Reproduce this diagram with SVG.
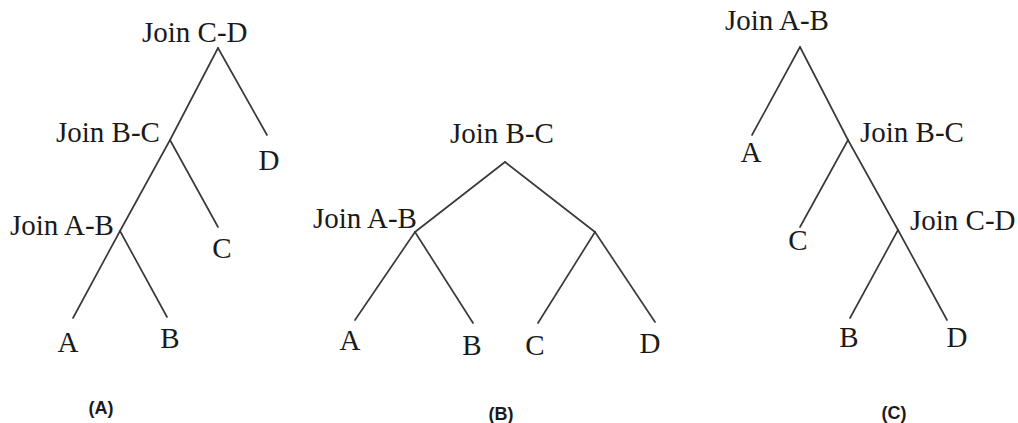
<svg xmlns="http://www.w3.org/2000/svg" width="1018" height="423" viewBox="0 0 1018 423">
<style>
.e{stroke:#3a3a3a;stroke-width:1.7;fill:none;stroke-linecap:round}
.t{font-family:"Liberation Serif","Times New Roman","DejaVu Serif",serif;font-size:29px;fill:#1a1a1a}
.c{text-anchor:middle}
.cap{font-family:"Liberation Sans",Arial,sans-serif;font-weight:bold;font-size:18px;fill:#1a1a1a;text-anchor:middle}
</style>
<rect width="1018" height="423" fill="#ffffff"/>
<g id="connectors">
<line class="e" x1="218" y1="48" x2="267" y2="135"/>
<line class="e" x1="218" y1="48" x2="170" y2="140"/>
<line class="e" x1="170" y1="140" x2="218" y2="227"/>
<line class="e" x1="170" y1="140" x2="120" y2="231"/>
<line class="e" x1="120" y1="231" x2="73" y2="318"/>
<line class="e" x1="120" y1="231" x2="167" y2="317"/>
<line class="e" x1="505" y1="162" x2="415" y2="232"/>
<line class="e" x1="505" y1="162" x2="595" y2="232"/>
<line class="e" x1="415" y1="232" x2="355" y2="320"/>
<line class="e" x1="415" y1="232" x2="473" y2="323"/>
<line class="e" x1="595" y1="232" x2="538" y2="323"/>
<line class="e" x1="595" y1="232" x2="655" y2="322"/>
<line class="e" x1="800" y1="47" x2="752" y2="135"/>
<line class="e" x1="800" y1="47" x2="848" y2="140"/>
<line class="e" x1="848" y1="140" x2="800" y2="227"/>
<line class="e" x1="848" y1="140" x2="898" y2="230"/>
<line class="e" x1="898" y1="230" x2="850" y2="318"/>
<line class="e" x1="898" y1="230" x2="947" y2="320"/>
</g>
<g id="treeA">
<g id="a-join-cd"><text class="t" x="142" y="42">Join C-D</text></g>
<g id="a-join-bc"><text class="t" x="56" y="142">Join B-C</text></g>
<g id="a-join-ab"><text class="t" x="10" y="235">Join A-B</text></g>
<g id="a-d"><text class="t c" x="269" y="170">D</text></g>
<g id="a-c"><text class="t c" x="222" y="258">C</text></g>
<g id="a-a"><text class="t c" x="68" y="352">A</text></g>
<g id="a-b"><text class="t c" x="170" y="348">B</text></g>
<g id="a-cap"><text class="cap" x="101" y="414">(A)</text></g>
</g>
<g id="treeB">
<g id="b-join-bc"><text class="t" x="450" y="143">Join B-C</text></g>
<g id="b-join-ab"><text class="t" x="313" y="228">Join A-B</text></g>
<g id="b-a"><text class="t c" x="350" y="350">A</text></g>
<g id="b-b"><text class="t c" x="472" y="355">B</text></g>
<g id="b-c"><text class="t c" x="535" y="355">C</text></g>
<g id="b-d"><text class="t c" x="650" y="353">D</text></g>
<g id="b-cap"><text class="cap" x="501" y="420">(B)</text></g>
</g>
<g id="treeC">
<g id="c-join-ab"><text class="t" x="725" y="30">Join A-B</text></g>
<g id="c-join-bc"><text class="t" x="860" y="142">Join B-C</text></g>
<g id="c-join-cd"><text class="t" x="910" y="230">Join C-D</text></g>
<g id="c-a"><text class="t c" x="751" y="162">A</text></g>
<g id="c-c"><text class="t c" x="798" y="250">C</text></g>
<g id="c-b"><text class="t c" x="849" y="347">B</text></g>
<g id="c-d"><text class="t c" x="957" y="347">D</text></g>
<g id="c-cap"><text class="cap" x="894" y="419">(C)</text></g>
</g>
</svg>
